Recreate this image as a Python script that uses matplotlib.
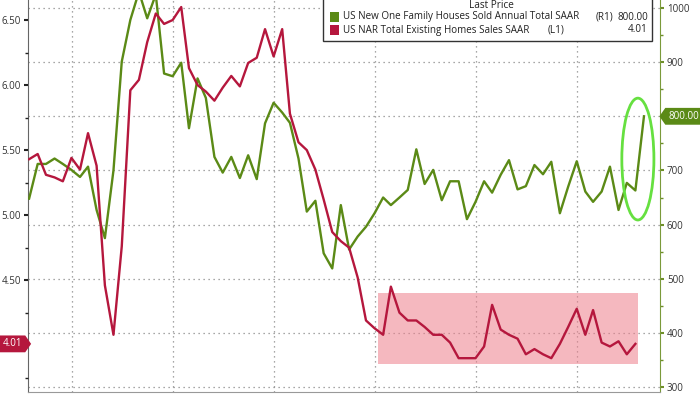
import matplotlib.pyplot as plt
import matplotlib.dates as mdates
import pandas as pd
from matplotlib.patches import Ellipse, Rectangle
from matplotlib.path import Path
from matplotlib.ticker import MultipleLocator, FuncFormatter
from matplotlib.transforms import blended_transform_factory

plt.rcParams['font.family'] = ['Open Sans', 'DejaVu Sans']

# Monthly values, Jul 2019 .. Aug 2025 (new homes, thousands) / Jul 2025 (existing, millions)
new_home_sales = [648, 712, 712, 722, 712, 701, 688, 707, 627, 575,
                  700, 901, 978, 1030, 981, 1025, 879, 874, 899, 778,
                  870, 834, 725, 696, 725, 686, 728, 684, 787, 825,
                  807, 788, 722, 624, 644, 547, 519, 636, 554, 578,
                  596, 621, 650, 636, 650, 664, 739, 675, 701, 645,
                  680, 680, 610, 642, 680, 659, 692, 719, 665, 671,
                  710, 693, 716, 621, 670, 717, 661, 642, 661, 707,
                  627, 677, 663, 800]
existing_sales = [5.43, 5.47, 5.31, 5.29, 5.26, 5.44, 5.35, 5.63, 5.38, 4.46,
                  4.08, 4.76, 5.96, 6.04, 6.33, 6.55, 6.47, 6.50, 6.60, 6.13,
                  6.00, 5.95, 5.88, 5.98, 6.07, 5.99, 6.17, 6.21, 6.43, 6.22,
                  6.43, 5.78, 5.56, 5.50, 5.35, 5.12, 4.87, 4.80, 4.75, 4.52,
                  4.19, 4.13, 4.08, 4.45, 4.25, 4.19, 4.19, 4.14, 4.08, 4.08,
                  4.02, 3.90, 3.90, 3.90, 3.99, 4.31, 4.12, 4.08, 4.05, 3.93,
                  3.97, 3.93, 3.90, 4.01, 4.14, 4.28, 4.08, 4.27, 4.02, 3.99,
                  4.03, 3.93, 4.01]
months = pd.date_range("2019-07-31", periods=len(new_home_sales), freq="ME")

label_new = "US New One Family Houses Sold Annual Total SAAR"
label_existing = "US NAR Total Existing Homes Sales SAAR"

GREEN = "#5b8a16"
RED = "#b5173d"
W, H = 700, 394


def fpx(x, y):
    # pixel position -> figure fraction
    return x / W, 1 - y / H


def tag_right(x0, y0, width, height, mutation_size):
    pad = 0.3 * mutation_size
    x0, y0 = x0 - pad, y0 - pad
    x1, y1 = x0 + width + 2 * pad, y0 + height + 2 * pad
    tip = 0.35 * (y1 - y0)
    return Path([(x0, y0), (x1, y0), (x1 + tip, (y0 + y1) / 2), (x1, y1),
                 (x0, y1), (x0, y0)], closed=True)


def tag_left(x0, y0, width, height, mutation_size):
    pad = 0.3 * mutation_size
    x0, y0 = x0 - pad, y0 - pad
    x1, y1 = x0 + width + 2 * pad, y0 + height + 2 * pad
    tip = 0.35 * (y1 - y0)
    return Path([(x0, y0), (x1, y0), (x1, y1), (x0, y1),
                 (x0 - tip, (y0 + y1) / 2), (x0, y0)], closed=True)


def hide_near(value, fmt):
    # tick label hidden where the last-value tag sits
    return FuncFormatter(lambda v, p: "" if abs(v - value) < 1e-6 else fmt % v)


fig = plt.figure(figsize=(7, 3.94), dpi=100)
ax = fig.add_axes([28 / W, 2 / H, 632 / W, 392 / H])   # right scale (R1)
ax2 = ax.twinx()                                        # left scale (L1)
ax.yaxis.tick_right()
ax2.yaxis.tick_left()

ax.set_xlim(pd.Timestamp("2019-07-27"), pd.Timestamp("2025-10-28"))
ax.set_ylim(290.8, 1014.8)
ax2.set_ylim(3.64, 6.654)

ax.xaxis.set_major_locator(mdates.YearLocator())
ax.tick_params(axis="x", length=0, labelbottom=False)
ax.grid(True, color="#8a8a8a", linestyle=(0, (1, 3)), linewidth=0.9)

ax.yaxis.set_major_locator(MultipleLocator(100))
ax.yaxis.set_minor_locator(MultipleLocator(50))
ax.yaxis.set_major_formatter(hide_near(800, "%d"))
ax.tick_params(axis="y", which="both", direction="out", colors="#6f8f2a",
               labelcolor="#333333", labelsize=7, length=3, width=1.5, pad=2)
ax.tick_params(axis="y", which="minor", length=2, width=1)

ax2.yaxis.set_major_locator(MultipleLocator(0.5))
ax2.yaxis.set_minor_locator(MultipleLocator(0.25))
ax2.yaxis.set_major_formatter(hide_near(4.0, "%.2f"))
ax2.tick_params(axis="y", which="both", direction="out", colors="#222222",
                labelcolor="#333333", labelsize=7, length=3, width=1.5, pad=2)
ax2.tick_params(axis="y", which="minor", length=2, width=1)

for s in ax2.spines.values():
    s.set_visible(False)
ax.spines["top"].set_visible(False)
ax.spines["left"].set_color("#666666")
ax.spines["bottom"].set_color("#999999")
ax.spines["right"].set_color("#7a9a3a")

# highlighted range of existing sales
ax2.fill_between([pd.Timestamp("2023-01-12"), pd.Timestamp("2025-08-09")],
                 3.855, 4.40, color="#ee7f8c", alpha=0.55, lw=0, zorder=1)

ax.plot(months, new_home_sales, color=GREEN, lw=1.7, zorder=3)
ax2.plot(months[:len(existing_sales)], existing_sales, color=RED, lw=1.7, zorder=3)

ax.add_patch(Ellipse((mdates.date2num(pd.Timestamp("2025-08-09")), 721),
                     width=116, height=225, fill=False,
                     edgecolor="#66e040", lw=2, zorder=4))

# last value tags
tr = blended_transform_factory(ax.transAxes, ax.transData)
ax.text(1.013, new_home_sales[-1], f"{new_home_sales[-1]:.2f}", transform=tr,
        ha="left", va="center", color="white", fontsize=7, clip_on=False,
        bbox=dict(boxstyle=tag_left, fc=GREEN, ec="none"), zorder=6)
tl = blended_transform_factory(ax2.transAxes, ax2.transData)
ax2.text(-0.009, existing_sales[-1], f"{existing_sales[-1]:.2f}", transform=tl,
         ha="right", va="center", color="white", fontsize=7, clip_on=False,
         bbox=dict(boxstyle=tag_right, fc=RED, ec="none"), zorder=6)

# legend box
x0, y0 = fpx(323, 41)
x1, y1 = fpx(652, -3)
fig.add_artist(Rectangle((x0, y0), x1 - x0, y1 - y0, transform=fig.transFigure,
                         fc="white", ec="#333333", lw=1, zorder=10))
fig.text(*fpx(491, 5), "Last Price", ha="center", va="center",
         fontsize=7.2, color="#222222", zorder=11)
rows = [(label_new, "(R1)", 596, new_home_sales[-1], GREEN, 17),
        (label_existing, "(L1)", 548, existing_sales[-1], RED, 30)]
for label, side, side_x, last, col, ry in rows:
    sx, sy = fpx(330, ry + 4.5)
    fig.add_artist(Rectangle((sx, sy), 9 / W, 9 / H, transform=fig.transFigure,
                             fc=col, ec="none", zorder=11))
    fig.text(*fpx(343, ry), label, ha="left", va="center", fontsize=7.1,
             color="#222222", zorder=11)
    fig.text(*fpx(side_x, ry), side, ha="left", va="center", fontsize=7.1,
             color="#222222", zorder=11)
    fig.text(*fpx(648, ry), f"{last:.2f}", ha="right", va="center",
             fontsize=7.1, color="#222222", zorder=11)

fig.savefig("out.png", dpi=100)
